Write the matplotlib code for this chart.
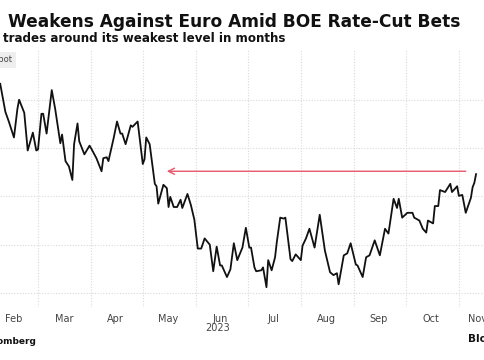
import matplotlib
matplotlib.use("Agg")
import matplotlib.pyplot as plt
import matplotlib.dates as mdates
import pandas as pd

# EUR/GBP spot (2023)
DATES = [
    "02-07", "02-10", "02-12", "02-15", "02-17", "02-18", "02-21", "02-23", "02-26", "02-28",
    "03-01", "03-03", "03-04", "03-06", "03-09", "03-11", "03-14", "03-15", "03-17", "03-19",
    "03-21", "03-22", "03-24", "03-25", "03-28", "03-31", "04-01", "04-04", "04-07", "04-08",
    "04-10", "04-11", "04-14", "04-16", "04-18", "04-19", "04-21", "04-24", "04-25", "04-28",
    "05-01", "05-02", "05-03", "05-05", "05-08", "05-09", "05-10", "05-13", "05-15", "05-16",
    "05-17", "05-19", "05-21", "05-23", "05-24", "05-27", "05-29", "05-31", "06-02", "06-04",
    "06-06", "06-09", "06-11", "06-13", "06-15", "06-16", "06-19", "06-21", "06-23", "06-25",
    "06-28", "06-30", "07-02", "07-03", "07-05", "07-06", "07-09", "07-10", "07-12", "07-13",
    "07-15", "07-17", "07-18", "07-20", "07-22", "07-23", "07-26", "07-27", "07-29", "08-01",
    "08-02", "08-04", "08-06", "08-09", "08-12", "08-15", "08-18", "08-20", "08-22", "08-23",
    "08-26", "08-28", "08-30", "09-02", "09-03", "09-06", "09-08", "09-10", "09-13", "09-16",
    "09-19", "09-21", "09-24", "09-26", "09-27", "09-29", "10-02", "10-05", "10-06", "10-09",
    "10-11", "10-13", "10-14", "10-17", "10-18", "10-20", "10-21", "10-24", "10-27", "10-28",
    "10-31", "11-01", "11-03", "11-05", "11-08", "11-09", "11-10", "11-11",
]
SPOT = [
    0.8933, 0.8875, 0.8855, 0.8822, 0.8881, 0.8900, 0.8873, 0.8795, 0.8832, 0.8795,
    0.8797, 0.8871, 0.8871, 0.8830, 0.8920, 0.8881, 0.8810, 0.8828, 0.8773, 0.8762,
    0.8734, 0.8808, 0.8851, 0.8814, 0.8787, 0.8805, 0.8799, 0.8779, 0.8752, 0.8779,
    0.8781, 0.8773, 0.8820, 0.8855, 0.8830, 0.8830, 0.8808, 0.8847, 0.8844, 0.8855,
    0.8767, 0.8777, 0.8822, 0.8808, 0.8726, 0.8721, 0.8685, 0.8724, 0.8717, 0.8678,
    0.8699, 0.8678, 0.8678, 0.8693, 0.8676, 0.8705, 0.8682, 0.8652, 0.8592, 0.8592,
    0.8613, 0.8600, 0.8545, 0.8596, 0.8557, 0.8557, 0.8533, 0.8549, 0.8603, 0.8568,
    0.8594, 0.8635, 0.8594, 0.8594, 0.8553, 0.8545, 0.8547, 0.8553, 0.8512, 0.8568,
    0.8547, 0.8574, 0.8605, 0.8656, 0.8654, 0.8656, 0.8570, 0.8566, 0.8580, 0.8568,
    0.8598, 0.8613, 0.8633, 0.8594, 0.8662, 0.8588, 0.8543, 0.8537, 0.8541, 0.8518,
    0.8578, 0.8582, 0.8603, 0.8559, 0.8557, 0.8533, 0.8574, 0.8578, 0.8609, 0.8578,
    0.8633, 0.8623, 0.8695, 0.8676, 0.8695, 0.8656, 0.8666, 0.8666, 0.8656, 0.8650,
    0.8633, 0.8625, 0.8650, 0.8644, 0.8680, 0.8680, 0.8713, 0.8709, 0.8726, 0.8709,
    0.8721, 0.8701, 0.8703, 0.8666, 0.8697, 0.8719, 0.8728, 0.8746,
]

MONTH_LABELS = ["Feb", "Mar", "Apr", "May", "Jun", "Jul", "Aug", "Sep", "Oct", "Nov"]
LABEL_DAYS = ["02-15", "03-16", "04-15", "05-16", "06-15", "07-16", "08-16", "09-15", "10-16", "11-12"]
Y_TICKS = [0.85, 0.86, 0.87, 0.88, 0.89]

ARROW_LEVEL = 0.8752
ARROW_TAIL = "11-05"
ARROW_HEAD = "05-15"

YEAR = "2023"


def day(s):
    return pd.Timestamp(f"{YEAR}-{s}")


plt.rcParams["font.family"] = "DejaVu Sans"

dates = [day(s) for s in DATES]

fig = plt.figure(figsize=(4.85, 3.6), dpi=100)
ax = fig.add_axes([0, 0.1472, 1, 0.7139])

ax.plot(dates, SPOT, color="#111111", lw=1.3, solid_joinstyle="round")

ax.annotate(
    "",
    xy=(day(ARROW_HEAD), ARROW_LEVEL),
    xytext=(day(ARROW_TAIL), ARROW_LEVEL),
    arrowprops=dict(arrowstyle="->", color="#e8566c", lw=1.0, mutation_scale=11,
                    shrinkA=0, shrinkB=0),
)

ax.set_xlim(pd.Timestamp("2023-02-06 21:00"), pd.Timestamp("2023-11-16 05:00"))
ax.set_ylim(0.8471, 0.9003)

ax.xaxis.set_major_locator(mdates.MonthLocator())
ax.xaxis.set_major_formatter(plt.NullFormatter())
ax.set_xticks([day(s) for s in LABEL_DAYS], MONTH_LABELS, minor=True)
ax.set_yticks(Y_TICKS)
ax.set_yticklabels([])
ax.tick_params(which="both", length=0)
ax.tick_params(axis="x", which="minor", labelsize=7, labelcolor="#444444", pad=5)
ax.grid(True, which="major", color="#d9d9d9", ls=(0, (1, 1.5)), lw=0.8)
for s in ax.spines.values():
    s.set_visible(False)

fig.text(8 / 485, 1 - 22 / 360, "Weakens Against Euro Amid BOE Rate-Cut Bets",
         fontsize=12.25, fontweight="bold", color="#111111",
         ha="left", va="center")
fig.text(3 / 485, 1 - 39 / 360, "trades around its weakest level in months",
         fontsize=8.6, fontweight="bold", color="#111111",
         ha="left", va="center")
fig.text(13 / 485, 1 - 60 / 360, "Spot", fontsize=6, color="#444444",
         ha="right", va="center",
         bbox=dict(boxstyle="square,pad=0.4", fc="#eeeeee", ec="none"))
fig.text(205 / 485, 1 - 328 / 360, YEAR, fontsize=7, color="#444444",
         ha="left", va="center")
fig.text(36 / 485, 1 - 342 / 360, "Source: Bloomberg", fontsize=6.5, fontweight="bold",
         color="#111111", ha="right", va="center")
fig.text(468 / 485, 1 - 339 / 360, "Bloomberg", fontsize=7.5, fontweight="bold",
         color="#111111", ha="left", va="center")

fig.savefig("out.png", dpi=100)
